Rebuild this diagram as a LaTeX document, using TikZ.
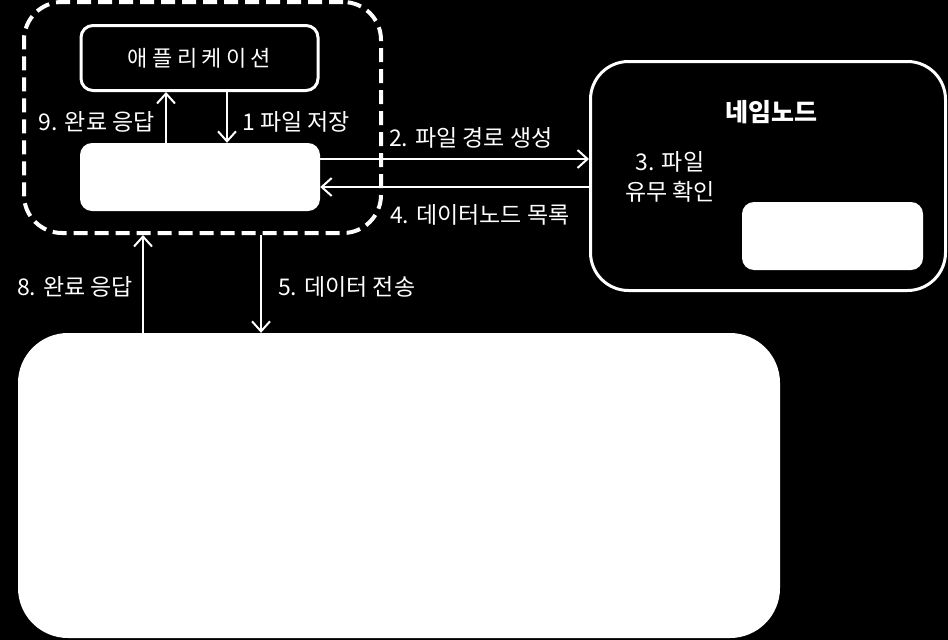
\documentclass[tikz,border=0pt]{standalone}
\usepackage{fontspec}
\setmainfont{Noto Sans CJK KR}
\newfontfamily\appfont[LetterSpace=20]{Noto Sans CJK KR}
\usetikzlibrary{arrows.meta,positioning}

\begin{document}
\begin{tikzpicture}[
    x=1pt, y=-1pt,
    % Global styles
    box/.style={draw=white, line width=3pt, fill=black, rounded corners=12pt},
    solidbox/.style={fill=white, rounded corners=12pt},
    flow/.style={draw=white, line width=2pt, -{Straight Barb[length=10pt,width=18pt]}},
    lbl/.style={text=white, font=\fontsize{23}{30}\selectfont, inner sep=0pt}
    ]
    % Black page
    \fill[black] (0,0) rectangle (948,640);
    \useasboundingbox (0,0) rectangle (948,640);

    % ===========================
    % CLIENT SIDE
    % ===========================

    % Dashed frame
    \node[draw=white, line width=4pt, dash pattern=on 14pt off 7pt, rounded corners=38pt,
          minimum width=357pt, minimum height=231pt] (frame) at (202.5,117.5) {};

    % Boxes
    \node[box, minimum width=237pt, minimum height=65pt, lbl, font=\fontsize{22}{26}\selectfont] (app) at (199.5,58) {\appfont 애플리케이션};
    \node[solidbox, minimum width=240pt, minimum height=68pt] (client) at (200,177) {};

    % Labels
    \node[lbl, anchor=east] (l9) at (155,122) {9. 완료 응답};
    \node[lbl, anchor=west] (l1) at (242,122) {1 파일 저장};

    % Edges
    \draw[flow] ([xshift=-34pt]client.north) -- ([xshift=-34pt]client.north |- app.south);
    \draw[flow] ([xshift=27.5pt]app.south) -- ([xshift=27.5pt]app.south |- client.north);

    % ===========================
    % NAME NODE
    % ===========================
    \node[box, rounded corners=38pt, minimum width=355pt, minimum height=229pt] (nn) at (768,176) {};
    \node[solidbox, minimum width=181pt, minimum height=68pt] (nnstore) at (832.5,236) {};

    \node[lbl, font=\fontsize{25}{28}\selectfont\bfseries] (nntitle) at (771,112) {네임노드};
    \node[lbl, align=center] (l3) at (670,177) {3. 파일\\유무 확인};
    \node[lbl, anchor=west] (l2) at (389,138) {2. 파일 경로 생성};
    \node[lbl, anchor=west] (l4) at (390,215) {4. 데이터노드 목록};

    % Edges
    \draw[flow] ([yshift=18pt]client.east) -- ([yshift=18pt]client.east -| nn.west);
    \draw[flow] ([yshift=-10pt]client.east -| nn.west) -- ([yshift=-10pt]client.east);

    % ===========================
    % LOWER BLOCK
    % ===========================
    \node[solidbox, rounded corners=50pt, minimum width=762pt, minimum height=305pt] (big) at (399,485.5) {};

    \node[lbl, anchor=west] (l8) at (17,287) {8. 완료 응답};
    \node[lbl, anchor=west] (l5) at (278,287) {5. 데이터 전송};

    % Edges
    \draw[flow] ([xshift=-59.5pt]frame.south |- big.north) -- ([xshift=-59.5pt]frame.south);
    \draw[flow] ([xshift=58.5pt]frame.south) -- ([xshift=58.5pt]frame.south |- big.north);

\end{tikzpicture}
\end{document}
